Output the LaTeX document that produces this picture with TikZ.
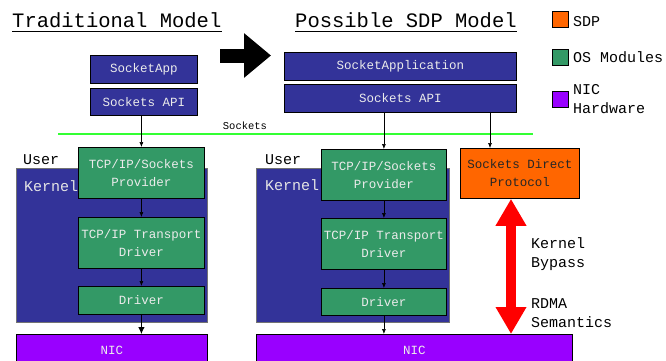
\documentclass[tikz,border=0pt]{standalone}
\usepackage{fontspec}
\setmainfont{Liberation Mono}
\usetikzlibrary{arrows.meta}
\definecolor{nblue}{HTML}{333399}
\definecolor{ngreen}{HTML}{339966}
\definecolor{norange}{HTML}{FF6600}
\definecolor{npurple}{HTML}{9900FF}
\definecolor{nline}{HTML}{33FF33}
\begin{document}
\begin{tikzpicture}[x=1pt,y=-1pt,
  box/.style={draw=black, line width=0.8pt, anchor=north west, inner sep=0pt, text=white!92!black, align=center, font=\fontsize{12.5}{18}\selectfont},
  bluebox/.style={box, fill=nblue},
  greenbox/.style={box, fill=ngreen},
  kernbox/.style={box, fill=nblue, draw=black!55},
  nicbox/.style={box, fill=npurple},
  sdpbox/.style={box, fill=norange, text=black!85},
  arr/.style={-{Latex[length=5pt,width=4pt]}, line width=0.6pt},
  bigarr/.style={-{Latex[length=7pt,width=6.5pt]}, line width=0.8pt},
  lbl/.style={font=\fontsize{15}{19}\selectfont, inner sep=0pt},
  title/.style={font=\fontsize{20.5}{24}\selectfont, inner sep=0pt, anchor=base west},
  leg/.style={draw=black, line width=0.8pt, minimum size=16pt, inner sep=0pt, anchor=north west}
]
\useasboundingbox (0,0) rectangle (666,360);
\clip (0,0) rectangle (666,360);

% titles
\node[title] (t1) at (12,27) {Traditional Model};
\draw[line width=1.3pt] ([yshift=-4.5pt]t1.base west) -- ([yshift=-4.5pt]t1.base east);
\node[title] (t2) at (295,27) {Possible SDP Model};
\draw[line width=1.3pt] ([yshift=-4.5pt]t2.base west) -- ([yshift=-4.5pt]t2.base east);

% big black arrow
\coordinate (ba1) at (220,55.5);
\coordinate (ba2) at (271,55.5);
\draw[line width=14pt, -{Triangle[length=27pt,width=43pt]}] (ba1) -- (ba2);

% legend
\node[leg, fill=norange] (lg1) at (552,11) {};
\node[lbl, anchor=west] at ([xshift=4pt,yshift=-2pt]lg1.east) {SDP};
\node[leg, fill=ngreen] (lg2) at (552,49) {};
\node[lbl, anchor=west] at ([xshift=4pt]lg2.east) {OS Modules};
\node[leg, fill=npurple] (lg3) at (552,91) {};
\node[lbl, anchor=west, align=left] at ([xshift=4pt,yshift=0pt]lg3.east) {NIC\\Hardware};

% green sockets line
\coordinate (gl1) at (58,134);
\coordinate (gl2) at (533,134);
\draw[nline, line width=1.6pt] (gl1) -- (gl2);
\node[font=\fontsize{10.5}{12}\selectfont, inner sep=0pt] (sk) at (245,126) {Sockets};

% ---------- left: traditional model ----------
\node[bluebox, minimum width=107pt, minimum height=28pt] (app) at (90,55) {SocketApp};
\node[bluebox, minimum width=107pt, minimum height=27pt] (api) at (90,88) {Sockets API};
\node[kernbox, minimum width=191pt, minimum height=154pt] (kernL) at (16,168) {};
\node[lbl, anchor=west] (userL) at (23,160) {User};
\node[lbl, anchor=west, text=white!90!black] (kL) at (24,186) {Kernel};
\node[greenbox, minimum width=126pt, minimum height=51pt] (provL) at (78,147) {TCP/IP/Sockets\\Provider};
\node[greenbox, minimum width=126pt, minimum height=51pt] (transL) at (78,217) {TCP/IP Transport\\Driver};
\node[greenbox, minimum width=126pt, minimum height=28pt] (drvL) at (78,286) {Driver};
\node[nicbox, minimum width=191pt, minimum height=32pt] (nicL) at (16,334) {NIC};

\draw[arr] (provL.north |- api.south) -- (provL.north);
\draw[arr] (provL.south) -- (transL.north);
\draw[arr] (transL.south) -- (drvL.north);
\draw[bigarr] (drvL.south) -- (nicL.north -| drvL.south);

% ---------- right: SDP model ----------
\node[bluebox, minimum width=232pt, minimum height=28pt] (appR) at (284,52) {SocketApplication};
\node[bluebox, minimum width=232pt, minimum height=28pt] (apiR) at (284,84) {Sockets API};
\node[kernbox, minimum width=193pt, minimum height=154pt] (kernR) at (256,168) {};
\node[lbl, anchor=west] (userR) at (265,160) {User};
\node[lbl, anchor=west, text=white!90!black] (kR) at (265,185) {Kernel};
\node[greenbox, minimum width=125pt, minimum height=51pt] (provR) at (321,149) {TCP/IP/Sockets\\Provider};
\node[greenbox, minimum width=125pt, minimum height=51pt] (transR) at (321,218) {TCP/IP Transport\\Driver};
\node[greenbox, minimum width=125pt, minimum height=27pt] (drvR) at (321,288) {Driver};
\node[sdpbox, minimum width=119pt, minimum height=50pt] (sdp) at (460,148) {Sockets Direct\\Protocol};
\node[nicbox, minimum width=316pt, minimum height=32pt] (nicR) at (256,334) {NIC};

\coordinate (sdpIn) at (490,148);
\draw[arr] (provR.north |- apiR.south) -- (provR.north);
\draw[arr] (sdpIn |- apiR.south) -- (sdpIn);
\draw[arr] (provR.south) -- (transR.north);
\draw[arr] (transR.south) -- (drvR.north);
\draw[arr] (drvR.south) -- (nicR.north -| drvR.south);

% red double arrow (kernel bypass)
\coordinate (rx) at (511,0);
\draw[red, line width=10pt, {Triangle[length=27pt,width=29pt]}-{Triangle[length=27pt,width=29pt]}] (sdp.south -| rx) -- (nicR.north -| rx);
\node[lbl, anchor=west, align=left] (kb) at (531,254) {Kernel\\Bypass};
\node[lbl, anchor=west, align=left] (rd) at (531,313) {RDMA\\Semantics};
\end{tikzpicture}
\end{document}
